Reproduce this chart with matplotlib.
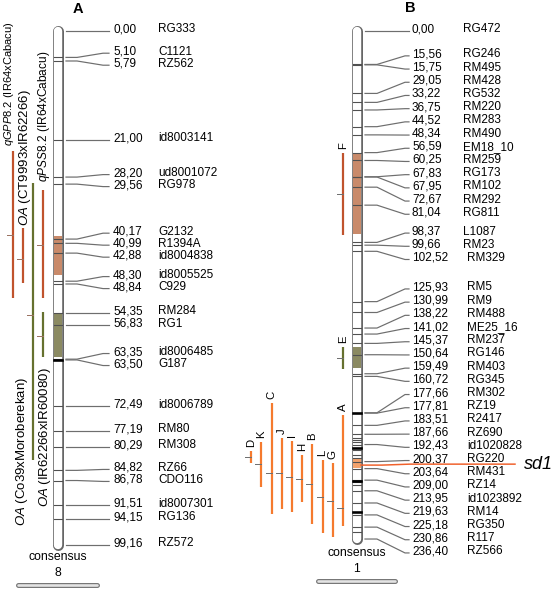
import matplotlib
matplotlib.use("Agg")
import matplotlib.pyplot as plt
from matplotlib.patches import Rectangle

plt.rcParams['font.family'] = ['Liberation Sans', 'DejaVu Sans']
plt.rcParams['mathtext.fontset'] = 'custom'
plt.rcParams['mathtext.rm'] = 'Liberation Sans'
plt.rcParams['mathtext.it'] = 'Liberation Sans:italic'

# ---- chromosome 8 (panel A) ----
a_pos = [0.00, 5.10, 5.79, 21.00, 28.20, 29.56, 40.17, 40.99, 42.88, 48.30,
         48.84, 54.35, 56.83, 63.35, 63.50, 72.49, 77.19, 80.29, 84.82, 86.78,
         91.51, 94.15, 99.16]
a_names = ['RG333', 'C1121', 'RZ562', 'id8003141', 'ud8001072', 'RG978',
           'G2132', 'R1394A', 'id8004838', 'id8005525', 'C929', 'RM284', 'RG1',
           'id8006485', 'G187', 'id8006789', 'RM80', 'RM308', 'RZ66', 'CDO116',
           'id8007301', 'RG136', 'RZ572']
a_dark = [63.42]
a_box_start = [39.6, 54.6]
a_box_end = [47.1, 62.9]

a_qtl_label = [r'$\mathit{qGPP8.2}$ (IR64xCabacu)',
               r'$\mathit{OA}$ (CT9993xIR62266)',
               r'$\mathit{OA}$ (Co39xMoroberekan)',
               r'$\mathit{qPSS8.2}$ (IR64xCabacu)',
               r'$\mathit{OA}$ (IR62266xIR60080)']
a_qtl_start = [23.2, 38.0, 29.3, 30.7, 54.2]
a_qtl_end = [51.5, 48.6, 82.8, 51.5, 62.9]
a_qtl_peak = [39.4, 44.0, 54.8, 41.3, 58.9]
a_qtl_group = [0, 0, 1, 0, 1]

# ---- chromosome 1 (panel B) ----
b_pos = [0.00, 15.56, 15.75, 29.05, 33.22, 36.75, 44.52, 48.34, 56.59, 60.25,
         67.83, 67.95, 72.67, 81.04, 98.37, 99.66, 102.52, 125.93, 130.99,
         138.22, 141.02, 145.37, 150.64, 159.49, 160.72, 177.66, 177.81, 183.51,
         187.66, 192.43, 200.37, 203.64, 209.00, 213.95, 219.63, 225.18, 230.86,
         236.40]
b_names = ['RG472', 'RG246', 'RM495', 'RM428', 'RG532', 'RM220', 'RM283',
           'RM490', 'EM18_10', 'RM259', 'RG173', 'RM102', 'RM292', 'RG811',
           'L1087', 'RM23', 'RM329', 'RM5', 'RM9', 'RM488', 'ME25_16', 'RM237',
           'RG146', 'RM403', 'RG345', 'RM302', 'RZ19', 'R2417', 'RZ690',
           'id1020828', 'RG220', 'RM431', 'RZ14', 'id1023892', 'RM14', 'RG350',
           'R117', 'RZ566']
b_extra = [189.3, 190.3, 191.3, 195.2, 197.3, 198.6, 210.0, 211.3, 233.2]
b_dark = [177.7, 193.9, 209.2, 224.0]
b_box_start = [56.8, 147.0]
b_box_end = [94.5, 156.8]
sd1_pos = 202.0
sd1_glow = (199.0, 203.4)

b_qtl_label = ['F', 'E', 'A', 'G', 'L', 'B', 'H', 'I', 'J', 'C', 'K', 'D']
b_qtl_start = [56.8, 147.0, 178.7, 201.0, 199.6, 192.2, 197.3, 190.8, 189.4,
               173.1, 191.3, 195.4]
b_qtl_end = [94.9, 157.3, 230.3, 235.5, 233.6, 229.4, 219.2, 223.8, 222.4,
             224.8, 212.2, 201.0]
b_qtl_peak = [75.8, 152.2, 222.0, 218.7, 216.8, 210.8, 208.5, 207.5, 205.7,
              205.7, 201.5, 198.2]
b_qtl_group = [0, 1, 2, 2, 2, 2, 2, 2, 2, 2, 2, 2]

W, H = 558, 591
GREY = '#6e6e6e'
QTL_COL = ['#c0532d', '#66712f', '#f57a2e']
BOX_COL = ['#c98a6a', '#8b8a62']


def pt(pixels):
    return pixels * 72 / 100


def spread(vals, gap):
    groups = [[i] for i in range(len(vals))]

    def place(g):
        c = sum(vals[i] for i in g) / len(g)
        s = c - (len(g) - 1) * gap / 2
        return [s + k * gap for k in range(len(g))]

    merged = True
    while merged:
        merged = False
        for j in range(len(groups) - 1):
            if place(groups[j + 1])[0] - place(groups[j])[-1] < gap:
                groups[j] += groups.pop(j + 1)
                merged = True
                break
    out = []
    for g in groups:
        out += place(g)
    return out


fig = plt.figure(figsize=(W / 100, H / 100), dpi=100)
base = fig.add_axes([0, 0, 1, 1])
base.set_xlim(0, W)
base.set_ylim(H, 0)
base.axis('off')


def chrom_axes(top, scale):
    ax = fig.add_axes([0, 0, 1, 1])
    ax.set_xlim(0, W)
    ax.set_ylim((H - top) / scale, -top / scale)
    ax.patch.set_alpha(0)
    ax.axis('off')
    return ax


def draw_chrom(ax, scale, xc, pos, names, dark, extra, bstart, bend,
               gap, xs, xnum, name_x):
    ends = [pos[0], pos[-1]]
    ax.plot([xc, xc], ends, color='#666666', lw=pt(11), solid_capstyle='round', zorder=1)
    ax.plot([xc, xc], ends, color='white', lw=pt(8.4), solid_capstyle='round', zorder=2)
    for s, e, k in zip(bstart, bend, range(len(bstart))):
        ax.add_patch(Rectangle((xc - 4.2, s), 8.4, e - s, color=BOX_COL[k], lw=0, zorder=3))
    for p in pos[1:-1] + extra:
        ax.plot([xc - 4.3, xc + 4.3], [p, p], color='#505050', lw=pt(1.1), zorder=4)
    for p in dark:
        ax.plot([xc - 4.3, xc + 4.3], [p, p], color='black', lw=pt(2.6), zorder=4)
    labs = [v / scale for v in spread([p * scale for p in pos], gap)]
    x0, x1, x2, x3 = xs
    for p, lab, nm in zip(pos, labs, names):
        ax.plot([x0, x1, x2, x3], [p, p, lab, lab], color=GREY, lw=pt(1.2), zorder=2)
        ty = lab + 1.5 / scale
        ax.text(xnum, ty, f'{p:.2f}'.replace('.', ','), fontsize=8.5, va='baseline')
        ax.text(name_x(p), ty, nm, fontsize=8.5, va='baseline')
    return labs


def draw_qtl(ax, x, s, e, peak, color, tick_col):
    ax.plot([x, x], [s, e], color=color, lw=pt(2.2), solid_capstyle='butt', zorder=3)
    ax.plot([x - 6, x], [peak, peak], color=tick_col, lw=pt(1), zorder=3)


# panel A
scaleA = 5.18
axA = chrom_axes(31, scaleA)
draw_chrom(axA, scaleA, 58, a_pos, a_names, a_dark, [], a_box_start, a_box_end,
           12, (66, 77, 103, 109), 113, lambda p: 158)
a_qtl_x = [13, 23, 33, 43, 43]
for x, s, e, pk, g in zip(a_qtl_x, a_qtl_start, a_qtl_end, a_qtl_peak, a_qtl_group):
    draw_qtl(axA, x, s, e, pk, QTL_COL[g], '#9a7262')

# rotated QTL captions: x, y, vertical anchor, font size
a_text_layout = [(9, 146, 'bottom', 8.0), (25, 226, 'bottom', 9.5),
                 (22, 377, 'top', 9.5), (44, 182, 'bottom', 8.6),
                 (45, 367, 'top', 9.5)]
for (tx, ty, va, fs), lab in zip(a_text_layout, a_qtl_label):
    base.text(tx, ty, lab, rotation=90, ha='center', va=va, fontsize=fs)

# panel B
scaleB = 2.149
axB = chrom_axes(31, scaleB)
labsB = draw_chrom(axB, scaleB, 357, b_pos, b_names, b_dark, b_extra,
                   b_box_start, b_box_end, 13.2, (365, 377, 405, 409), 412,
                   lambda p: 463 if p < 100 else 467)
axB.add_patch(Rectangle((357 - 4.2, sd1_glow[0]), 8.4, sd1_glow[1] - sd1_glow[0],
                        color='#f3a26c', lw=0, zorder=3))

b_col = [0, 0] + list(range(10))
for lab, s, e, pk, g, c in zip(b_qtl_label, b_qtl_start, b_qtl_end, b_qtl_peak,
                               b_qtl_group, b_col):
    x = 343 - c * 10.2
    draw_qtl(axB, x, s, e, pk, QTL_COL[g], '#707070')
    axB.text(x, s - 4 / scaleB, lab, rotation=90, ha='center', va='bottom', fontsize=8.2)

# sd1 gene
i1 = b_pos.index(200.37)
mid = (labsB[i1] + labsB[i1 + 1]) / 2 - 3 / scaleB
axB.plot([361, 382, 410, 515], [sd1_pos, sd1_pos, mid, mid], color='#f0602a',
         lw=pt(1.5), zorder=5)
axB.text(524, mid, 'sd1', fontsize=13, style='italic', va='center')

# titles and chromosome captions
base.text(78, 9, 'A', fontsize=10.5, fontweight='bold', ha='center', va='center')
base.text(410, 8, 'B', fontsize=10.5, fontweight='bold', ha='center', va='center')
for cx, cy, num, x0, x1, iy in [(58, 557, '8', 18, 97, 585), (357, 553, '1', 318, 395, 581)]:
    base.text(cx, cy, 'consensus', fontsize=8.8, ha='center', va='center')
    base.text(cx, cy + 16, num, fontsize=8.8, ha='center', va='center')
    base.plot([x0, x1], [iy, iy], color='#777777', lw=pt(5), solid_capstyle='round')
    base.plot([x0, x1], [iy, iy], color='#e4e4e4', lw=pt(2.6), solid_capstyle='round')

fig.savefig('out.png', dpi=100)
